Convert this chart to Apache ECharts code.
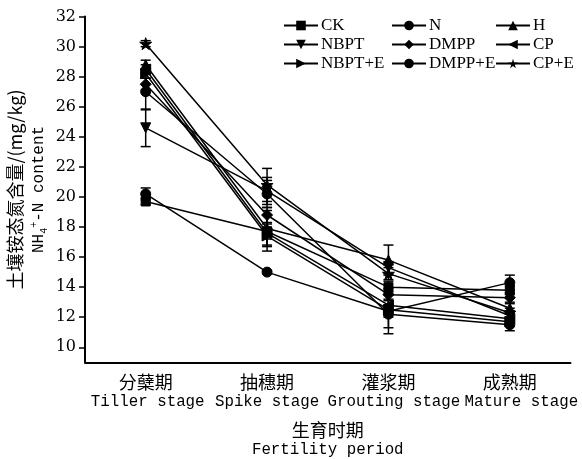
<!DOCTYPE html>
<html>
<head>
<meta charset="utf-8">
<script src="https://cdn.jsdelivr.net/npm/echarts@6/dist/echarts.min.js"></script>
<style>
  html, body { margin: 0; padding: 0; background: #fff; }
  #chart { width: 582px; height: 459px; }
</style>
</head>
<body>
<div id="chart"></div>
<script>
// growth stages
const stages = ['分蘖期', '抽穗期', '灌浆期', '成熟期'];
const stagesEn = ['Tiller stage', 'Spike stage', 'Grouting stage', 'Mature stage'];
const yTicks = [10, 12, 14, 16, 18, 20, 22, 24, 26, 28, 30, 32];

// NH4+-N content (mg/kg) per treatment, and error bar half-widths
const ck = [19.7, 17.7, 14.0, 13.8];
const ckErr = [0.2, 0.5, 0.4, 0.3];
const n = [20.2, 15.0, 12.4, 14.3];
const nErr = [0.4, 0.1, 0.4, 0.5];
const h = [28.8, 17.9, 15.8, 12.6];
const hErr = [0.3, 1.2, 1.0, 0.3];
const nbpt = [24.6, 20.4, 15.3, 12.1];
const nbptErr = [1.25, 0.9, 0.4, 0.3];
const dmpp = [27.5, 18.8, 13.5, 13.3];
const dmppErr = [0.4, 0.5, 0.4, 0.3];
const cp = [28.5, 17.6, 12.8, 11.9];
const cpErr = [0.3, 1.2, 0.4, 0.3];
const nbptE = [28.2, 17.4, 12.5, 11.7];
const nbptEErr = [0.3, 0.6, 1.2, 0.3];
const dmppE = [27.0, 20.2, 12.2, 11.5];
const dmppEErr = [1.2, 0.9, 1.3, 0.4];
const cpE = [30.2, 20.8, 14.9, 12.3];
const cpEErr = [0.2, 1.1, 0.4, 0.3];

const STAR = 'path://M50,0 L61,35 L98,35 L68,57 L79,91 L50,70 L21,91 L32,57 L2,35 L39,35 Z';

const treatments = [
    { name: 'CK', data: ck, err: ckErr, symbol: 'rect', rotate: 0, size: 9 },
    { name: 'N', data: n, err: nErr, symbol: 'circle', rotate: 0, size: 10 },
    { name: 'H', data: h, err: hErr, symbol: 'triangle', rotate: 0, size: 10 },
    { name: 'NBPT', data: nbpt, err: nbptErr, symbol: 'triangle', rotate: 180, size: 10 },
    { name: 'DMPP', data: dmpp, err: dmppErr, symbol: 'diamond', rotate: 0, size: 11 },
    { name: 'CP', data: cp, err: cpErr, symbol: 'triangle', rotate: 90, size: 10 },
    { name: 'NBPT+E', data: nbptE, err: nbptEErr, symbol: 'triangle', rotate: -90, size: 10 },
    { name: 'DMPP+E', data: dmppE, err: dmppEErr, symbol: 'circle', rotate: 0, size: 10 },
    { name: 'CP+E', data: cpE, err: cpEErr, symbol: STAR, rotate: 0, size: 12 }
];

const chart = echarts.init(document.getElementById('chart'));

const serifFont = 'DejaVu Serif';
const legendFont = 'Liberation Serif';
const cjkFont = 'Noto Sans CJK SC';
const monoFont = 'Liberation Mono';

// error bars as one custom series
const errRows = [];
treatments.forEach(t => {
    t.data.forEach((v, i) => {
        errRows.push([i, v - t.err[i], v + t.err[i]]);
    });
});

const series = treatments.map(t => ({
    name: t.name,
    type: 'line',
    data: t.data,
    symbol: t.symbol,
    symbolRotate: t.rotate,
    symbolSize: t.size,
    showAllSymbol: true,
    lineStyle: { color: '#000', width: 1.5 },
    itemStyle: { color: '#000', borderColor: '#000' },
    emphasis: { disabled: true },
    z: 3
}));

series.push({
    type: 'custom',
    name: 'err',
    data: errRows,
    z: 2,
    renderItem: function (params, api) {
        const x = api.coord([api.value(0), api.value(1)])[0];
        const lo = api.coord([api.value(0), api.value(1)])[1];
        const hi = api.coord([api.value(0), api.value(2)])[1];
        const w = 5;
        const style = { stroke: '#000', lineWidth: 1.5 };
        return {
            type: 'group',
            children: [
                { type: 'line', shape: { x1: x, y1: lo, x2: x, y2: hi }, style: style },
                { type: 'line', shape: { x1: x - w, y1: lo, x2: x + w, y2: lo }, style: style },
                { type: 'line', shape: { x1: x - w, y1: hi, x2: x + w, y2: hi }, style: style }
            ]
        };
    }
});

function legendCol(left, names) {
    return {
        orient: 'vertical',
        left: left,
        top: 17,
        padding: 0,
        itemGap: 2,
        itemWidth: 34,
        itemHeight: 12,
        selectedMode: false,
        data: names,
        textStyle: { fontFamily: legendFont, fontSize: 17, color: '#000', lineHeight: 16, padding: [0, 0, 0, -2] }
    };
}

// english labels are nudged right in the original to avoid touching
const enPad = [4, 0, 11, 23];
const enRich = {};
enPad.forEach((p, i) => {
    enRich['en' + i] = { fontFamily: monoFont, fontSize: 15.8, color: '#000', lineHeight: 20, padding: [0, 0, 0, p] };
});

const option = {
    animation: false,
    backgroundColor: '#fff',
    grid: { left: 85, right: 11.5, top: 16.6, bottom: 96.7, outerBoundsMode: 'none', containLabel: false },
    legend: [
        legendCol(283, ['CK', 'NBPT', 'NBPT+E']),
        legendCol(391, ['N', 'DMPP', 'DMPP+E']),
        legendCol(495, ['H', 'CP', 'CP+E'])
    ],
    xAxis: {
        type: 'category',
        data: stages,
        boundaryGap: true,
        axisLine: { lineStyle: { color: '#000', width: 2 } },
        axisTick: { alignWithLabel: true, length: 6, lineStyle: { color: '#000', width: 1.5 } },
        axisLabel: {
            interval: 0,
            hideOverlap: false,
            margin: 9,
            formatter: function (value, idx) {
                return '{zh|' + value + '}\n{en' + idx + '|' + stagesEn[idx] + '}';
            },
            rich: Object.assign({
                zh: { fontFamily: cjkFont, fontSize: 18, color: '#000', lineHeight: 21 }
            }, enRich)
        },
        name: '{zh|生育时期}\n{en|Fertility period}',
        nameLocation: 'middle',
        nameGap: 57,
        nameMoveOverlap: false,
        nameTextStyle: {
            rich: {
                zh: { fontFamily: cjkFont, fontSize: 18, color: '#000', lineHeight: 21, align: 'center' },
                en: { fontFamily: monoFont, fontSize: 15.8, color: '#000', lineHeight: 19, align: 'center' }
            }
        }
    },
    yAxis: {
        type: 'value',
        min: 9,
        max: 32,
        interval: 1,
        splitLine: { show: false },
        axisLine: { show: true, lineStyle: { color: '#000', width: 2 } },
        axisTick: { show: true, length: 6, customValues: yTicks, lineStyle: { color: '#000', width: 1.5 } },
        axisLabel: {
            customValues: yTicks,
            margin: 9,
            fontFamily: serifFont,
            fontSize: 16,
            color: '#000'
        },
        name: '{zh|土壤铵态氮含量/(mg/kg)}\n{en|NH}{sub|4}{sup|+}{en|-N content}',
        nameLocation: 'middle',
        nameRotate: 90,
        nameGap: 35,
        nameMoveOverlap: false,
        nameTextStyle: {
            rich: {
                zh: { fontFamily: cjkFont, fontSize: 18, color: '#000', lineHeight: 25 },
                en: { fontFamily: monoFont, fontSize: 16, color: '#000', lineHeight: 22 },
                sub: { fontFamily: monoFont, fontSize: 10, color: '#000', lineHeight: 22, padding: [10, 0, 0, 0] },
                sup: { fontFamily: monoFont, fontSize: 10, color: '#000', lineHeight: 22, padding: [0, 0, 10, 0] }
            }
        }
    },
    series: series
};

chart.setOption(option);
</script>
</body>
</html>
